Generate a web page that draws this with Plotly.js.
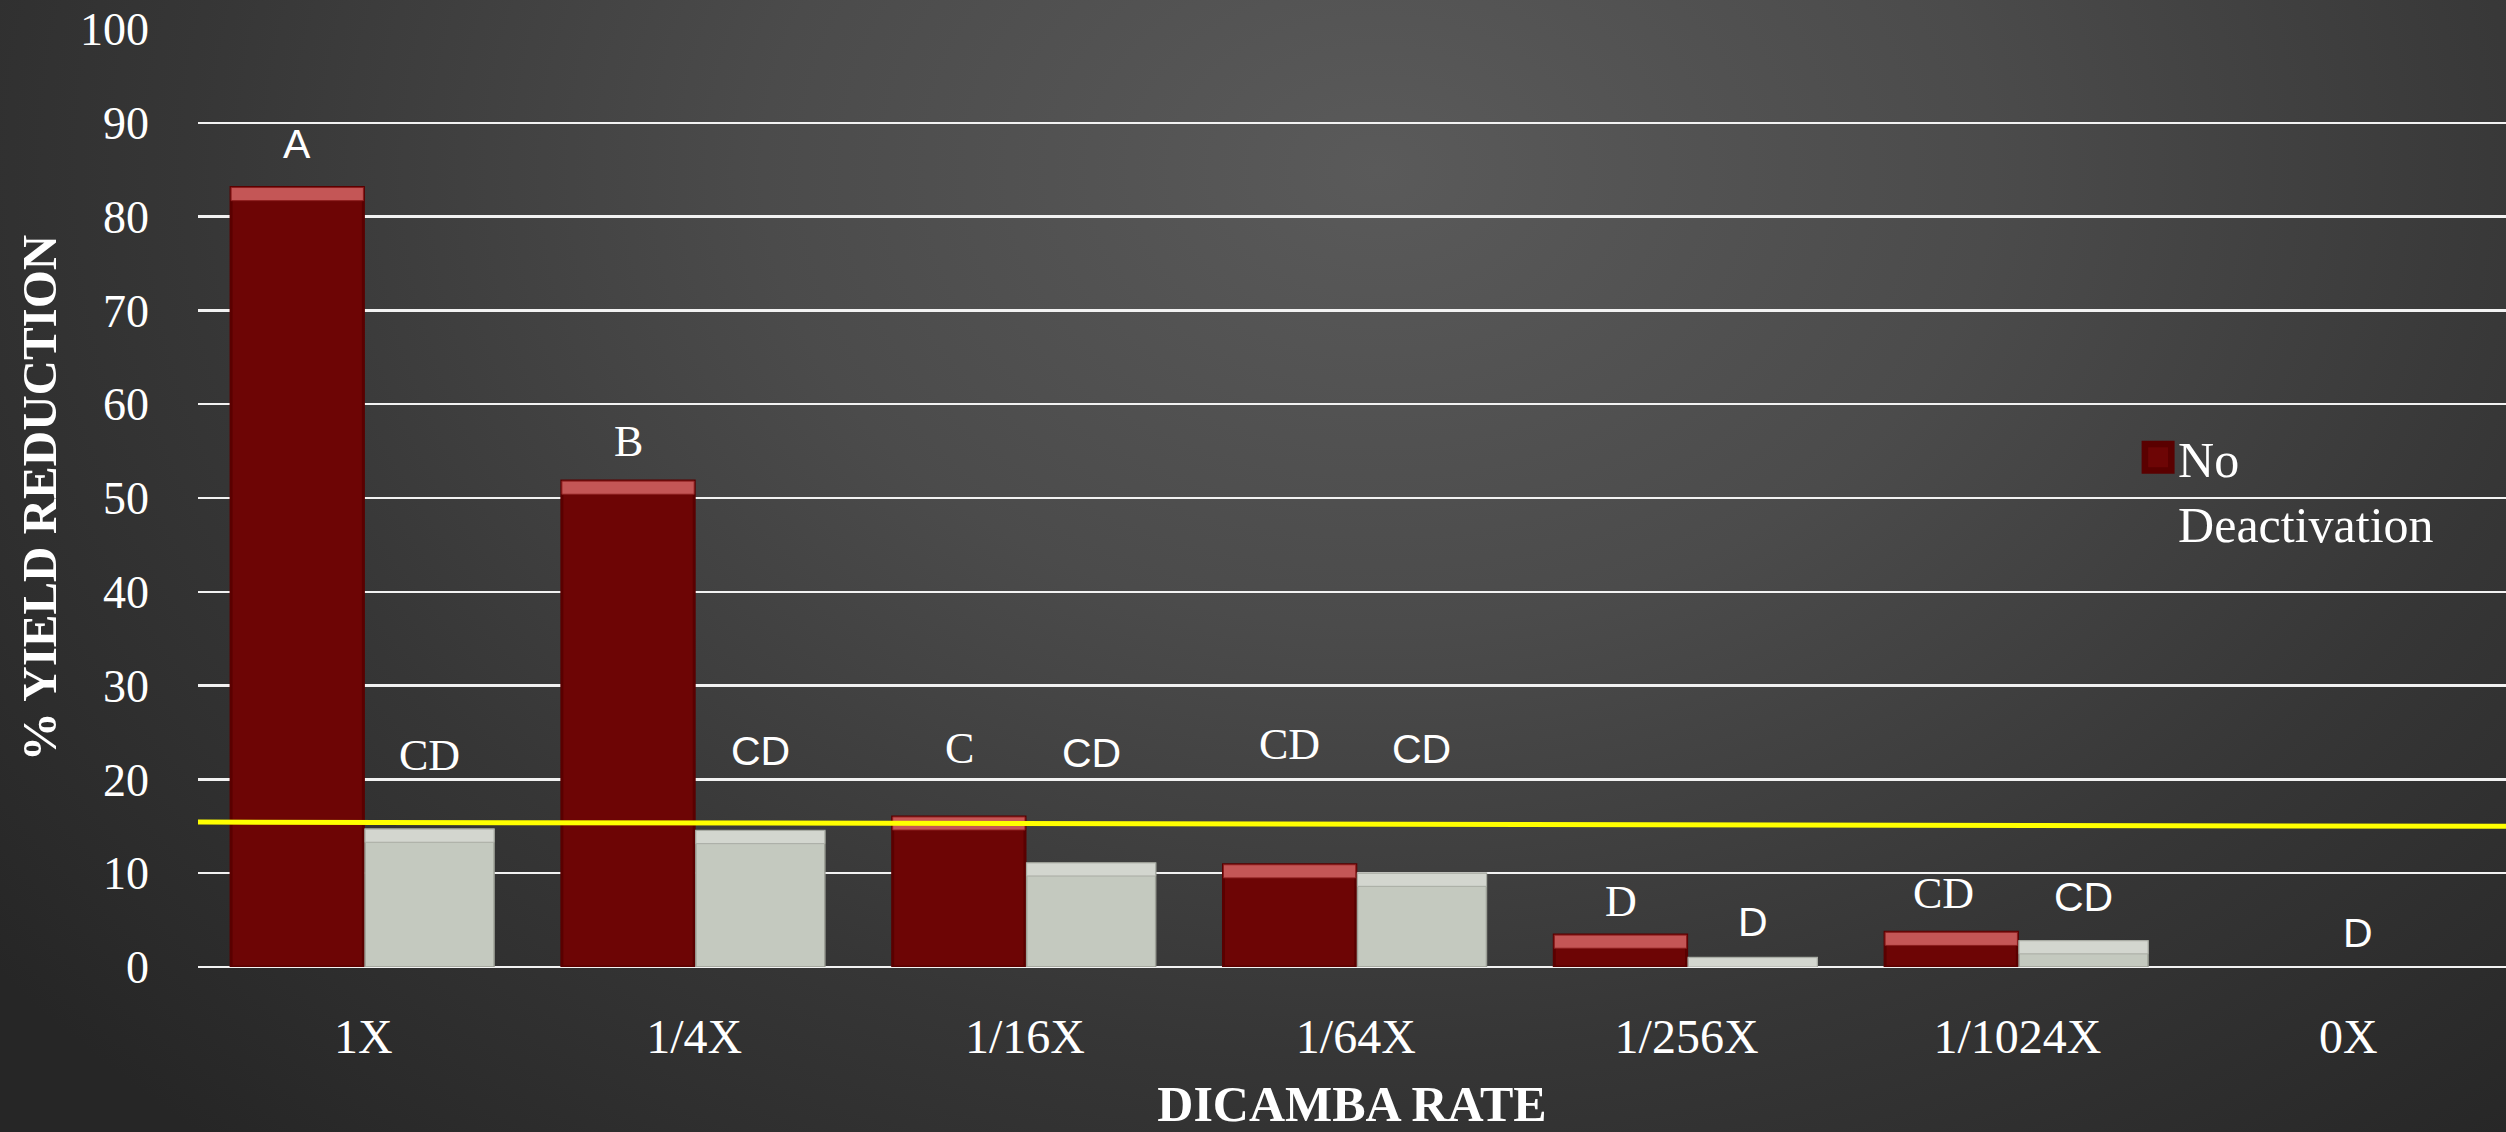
<!DOCTYPE html>
<html>
<head>
<meta charset="utf-8">
<script src="https://cdn.plot.ly/plotly-3.0.1.min.js"></script>
<style>
  html, body { margin: 0; padding: 0; }
  body {
    width: 2506px; height: 1132px; overflow: hidden;
    background: radial-gradient(ellipse 70% 115% at 55% 15%, #5a5a5a 0%, #4b4b4b 35%, #363636 68%, #262626 100%);
  }
  #chart { width: 2506px; height: 1132px; }
</style>
</head>
<body>
<div id="chart"></div>
<script>
// ---- data ----
const categories = ['1X', '1/4X', '1/16X', '1/64X', '1/256X', '1/1024X', '0X'];
const noDeactivation = [83.1, 51.8, 16.0, 10.9, 3.4, 3.7, 0];
const deactivated = [14.7, 14.55, 11.1, 10.0, 1.0, 2.8, 0];
const noDeactLetters = ['A', 'B', 'C', 'CD', 'D', 'CD', ''];
const deactLetters = ['CD', 'CD', 'CD', 'CD', 'D', 'CD', 'D'];
const refLineX = [-0.5, 6.5];
const refLineY = [15.45, 15.0];

// ---- label placement (positions/styles, not data) ----
const noDeactLabelY = [87.7, 56.0, 23.3, 23.7, 7.0, 7.8, 0];
const deactLabelY = [22.5, 23.0, 22.8, 23.2, 4.8, 7.5, 3.6];
const noDeactLabelSans = [true, false, false, false, false, false, false];
const deactLabelSans = [false, true, true, true, true, true, true];
const deactLabelShift = [66, 66, 66, 66, 66, 66, 10];
const noDeactLabelShift = [-66, -66, -66, -66, -66, -74, -66];

const SERIF = '"Liberation Serif", "DejaVu Serif", serif';
const SANS = '"Liberation Sans", Arial, sans-serif';
const BEVEL = 1.4;

const bevel = arr => arr.map(v => v > 0 ? Math.min(BEVEL, v) : 0);
const bevelBase = arr => arr.map(v => v > 0 ? Math.max(0, v - BEVEL) : 0);
const edge = (arr, w) => arr.map(v => v > 0 ? w : 0);

const traces = [
  {
    type: 'bar', name: 'No<br>Deactivation', x: categories, y: noDeactivation,
    offset: -0.4, width: 0.4,
    marker: { color: '#6d0505', line: { color: '#5a0000', width: edge(noDeactivation, 3) } },
    showlegend: true, hoverinfo: 'x+y'
  },
  {
    type: 'bar', name: 'Deactivation', x: categories, y: deactivated,
    offset: 0.005, width: 0.39,
    marker: { color: '#c4c9bf', line: { color: '#9da097', width: edge(deactivated, 1.5) } },
    showlegend: false, hoverinfo: 'x+y'
  },
  {
    type: 'bar', x: categories, y: bevel(noDeactivation), base: bevelBase(noDeactivation),
    offset: -0.4, width: 0.4,
    marker: { color: '#c45656', line: { color: '#8a1d1d', width: edge(noDeactivation, 1) } },
    showlegend: false, hoverinfo: 'skip'
  },
  {
    type: 'bar', x: categories, y: bevel(deactivated), base: bevelBase(deactivated),
    offset: 0.005, width: 0.39,
    marker: { color: '#d3d6cf', line: { color: '#a8aba3', width: edge(deactivated, 1) } },
    showlegend: false, hoverinfo: 'skip'
  },
  {
    type: 'scatter', mode: 'lines', x: refLineX, y: refLineY, xaxis: 'x2',
    line: { color: '#ffff00', width: 5 }, showlegend: false, hoverinfo: 'skip'
  }
];

const annotations = [];
categories.forEach((c, i) => {
  if (noDeactLetters[i]) {
    annotations.push({
      x: c, y: noDeactLabelY[i], xref: 'x', yref: 'y', text: noDeactLetters[i],
      showarrow: false, xshift: noDeactLabelShift[i], yanchor: 'middle',
      font: { family: noDeactLabelSans[i] ? SANS : SERIF, size: noDeactLabelSans[i] ? 41 : 44, color: '#ffffff' }
    });
  }
  if (deactLetters[i]) {
    annotations.push({
      x: c, y: deactLabelY[i], xref: 'x', yref: 'y', text: deactLetters[i],
      showarrow: false, xshift: deactLabelShift[i], yanchor: 'middle',
      font: { family: deactLabelSans[i] ? SANS : SERIF, size: deactLabelSans[i] ? 41 : 44, color: '#ffffff' }
    });
  }
});

const layout = {
  width: 2506, height: 1132,
  paper_bgcolor: 'rgba(0,0,0,0)', plot_bgcolor: 'rgba(0,0,0,0)',
  margin: { l: 198, r: 0, t: 29, b: 165, pad: 0 },
  barmode: 'overlay',
  font: { family: SERIF, color: '#ffffff' },
  xaxis: {
    type: 'category', range: [-0.5, 6.477],
    showgrid: false, zeroline: false, showline: false, ticks: '',
    tickfont: { family: SERIF, size: 48, color: '#ffffff' },
    ticklabelstandoff: 37,
    title: { text: '<b>DICAMBA RATE</b>', font: { family: SERIF, size: 50, color: '#ffffff' }, standoff: 26 },
    fixedrange: true
  },
  xaxis2: {
    overlaying: 'x', type: 'linear', range: [-0.5, 6.477], visible: false, fixedrange: true
  },
  yaxis: {
    range: [0, 100], dtick: 10, tick0: 0,
    showgrid: true, gridcolor: '#f2f2f2', gridwidth: 2.5,
    zeroline: true, zerolinecolor: '#f2f2f2', zerolinewidth: 2.5,
    showline: false, ticks: '',
    tickfont: { family: SERIF, size: 46, color: '#ffffff' },
    ticklabelstandoff: 48,
    title: { text: '<b>% YIELD REDUCTION</b>', font: { family: SERIF, size: 49, color: '#ffffff' }, standoff: 7 },
    fixedrange: true
  },
  legend: {
    x: 0.8406, y: 0.585, xanchor: 'left', yanchor: 'top',
    bgcolor: 'rgba(0,0,0,0)', borderwidth: 0, valign: 'top',
    font: { family: SERIF, size: 50, color: '#ffffff' },
    itemclick: false, itemdoubleclick: false
  },
  annotations: annotations,
  showlegend: true
};

Plotly.newPlot('chart', traces, layout, { displayModeBar: false, staticPlot: true }).then(() => {
  document.querySelectorAll('.legend .legendpoints path').forEach(p => {
    const t = p.getAttribute('transform') || '';
    p.setAttribute('transform', t + ' scale(2.2)');
  });
});
</script>
</body>
</html>
